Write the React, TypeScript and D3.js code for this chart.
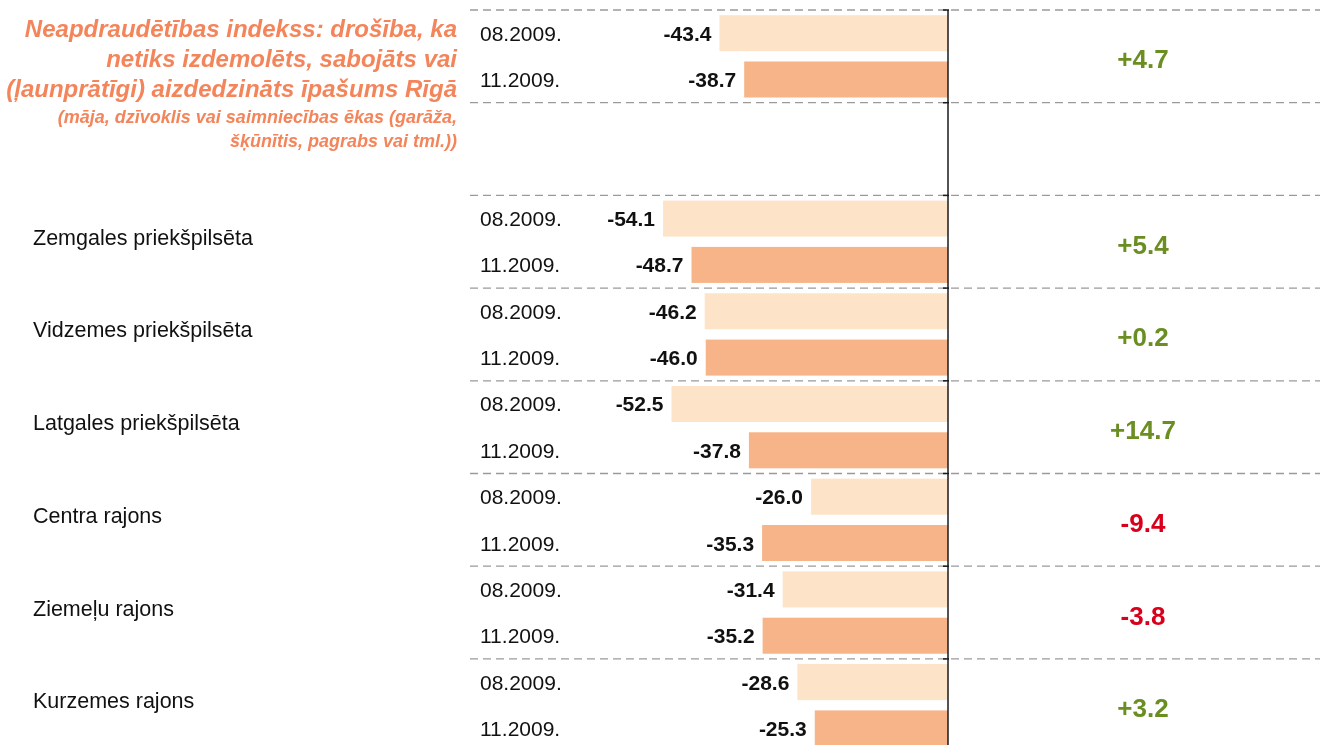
import { useEffect, useRef } from 'react';
import * as d3 from 'd3';

// groups top to bottom; the empty slot keeps the gap under the title
const groups = ['Rīga', '', 'Zemgales priekšpilsēta', 'Vidzemes priekšpilsēta', 'Latgales priekšpilsēta', 'Centra rajons', 'Ziemeļu rajons', 'Kurzemes rajons'];
const periods = ['08.2009.', '11.2009.'];
const aug2009 = [-43.4, null, -54.1, -46.2, -52.5, -26.0, -31.4, -28.6];
const nov2009 = [-38.7, null, -48.7, -46.0, -37.8, -35.3, -35.2, -25.3];
const changes = [4.7, null, 5.4, 0.2, 14.7, -9.4, -3.8, 3.2];
const titleLines = ['Neapdraudētības indekss: drošība, ka', 'netiks izdemolēts, sabojāts vai', '(ļaunprātīgi) aizdedzināts īpašums Rīgā'];
const subtitleLines = ['(māja, dzīvoklis vai saimniecības ēkas (garāža,', 'šķūnītis, pagrabs vai tml.))'];

const FONT = '"Liberation Sans", Arial, sans-serif';

const App = () => {
  const svgRef = useRef<SVGSVGElement>(null);

  useEffect(() => {
    const width = 1327;
    const height = 745;

    const svg = d3.select(svgRef.current)
      .attr('width', width)
      .attr('height', height);
    svg.selectAll('*').remove();

    // scales
    const x = d3.scaleLinear().domain([-60, 0]).range([632, 948]);
    const y = d3.scaleBand<number>()
      .domain(d3.range(groups.length))
      .range([10, 10 + groups.length * 92.7]);
    const yInner = d3.scaleBand<string>()
      .domain(periods)
      .range([0, y.bandwidth()])
      .paddingInner(0.222)
      .paddingOuter(0.112);
    const colors = d3.scaleOrdinal<string, string>().domain(periods).range(['#fde3c8', '#f7b488']);

    // dashed separators
    const bounds = d3.range(groups.length + 1).map(i => y.range()[0] + i * y.step());
    svg.append('g')
      .selectAll('line')
      .data(bounds)
      .enter()
      .append('line')
      .attr('x1', 470)
      .attr('x2', 1320)
      .attr('y1', d => d)
      .attr('y2', d => d)
      .attr('stroke', '#9a9a9a')
      .attr('stroke-width', 1.3)
      .attr('stroke-dasharray', '8,5');

    // title
    const title = svg.append('g').attr('fill', '#f4845a').attr('font-family', FONT)
      .attr('font-weight', 'bold').attr('font-style', 'italic').attr('text-anchor', 'end');
    titleLines.forEach((t, i) => {
      title.append('text').attr('x', 457).attr('y', 37 + i * 30).attr('font-size', 24).text(t);
    });
    subtitleLines.forEach((t, i) => {
      title.append('text').attr('x', 457).attr('y', 123 + i * 24).attr('font-size', 18).text(t);
    });

    groups.forEach((name, gi) => {
      const vals = [aug2009[gi], nov2009[gi]];
      if (vals[0] === null) return;
      const g = svg.append('g').attr('transform', `translate(0, ${y(gi)})`);
      const mid = y.bandwidth() / 2;

      if (gi > 0) {
        g.append('text')
          .attr('x', 33)
          .attr('y', mid - 4)
          .attr('dominant-baseline', 'central')
          .attr('font-family', FONT)
          .attr('font-size', 21.5)
          .attr('fill', '#111')
          .text(name);
      }

      periods.forEach((p, pi) => {
        const v = vals[pi] as number;
        const by = yInner(p)!;
        const cy = by + yInner.bandwidth() / 2;
        g.append('rect')
          .attr('x', x(v))
          .attr('y', by)
          .attr('width', x(0) - x(v))
          .attr('height', yInner.bandwidth())
          .attr('fill', colors(p));
        g.append('text')
          .attr('x', 480)
          .attr('y', cy)
          .attr('dominant-baseline', 'central')
          .attr('font-family', FONT)
          .attr('font-size', 21)
          .attr('fill', '#111')
          .text(p);
        g.append('text')
          .attr('x', x(v) - 8)
          .attr('y', cy)
          .attr('dominant-baseline', 'central')
          .attr('text-anchor', 'end')
          .attr('font-family', FONT)
          .attr('font-size', 21)
          .attr('font-weight', 'bold')
          .attr('fill', '#111')
          .text(v.toFixed(1));
      });

      const c = changes[gi] as number;
      g.append('text')
        .attr('x', 1143)
        .attr('y', mid + 3)
        .attr('dominant-baseline', 'central')
        .attr('text-anchor', 'middle')
        .attr('font-family', FONT)
        .attr('font-size', 26)
        .attr('font-weight', 'bold')
        .attr('fill', c >= 0 ? '#6b8e23' : '#d9001b')
        .text((c >= 0 ? '+' : '') + c.toFixed(1));
    });

    // zero axis with ticks at group boundaries
    const axis = svg.append('g').attr('stroke', '#1a1a1a').attr('stroke-width', 1.5);
    axis.append('line')
      .attr('x1', x(0)).attr('x2', x(0))
      .attr('y1', bounds[0]).attr('y2', height);
    axis.selectAll('line.tick')
      .data(bounds)
      .enter()
      .append('line')
      .attr('class', 'tick')
      .attr('x1', x(0) - 5).attr('x2', x(0) + 1)
      .attr('y1', d => d).attr('y2', d => d);
  }, []);

  return <svg ref={svgRef} style={{ position: 'fixed', left: 0, top: 0 }}></svg>;
};

export default App;
